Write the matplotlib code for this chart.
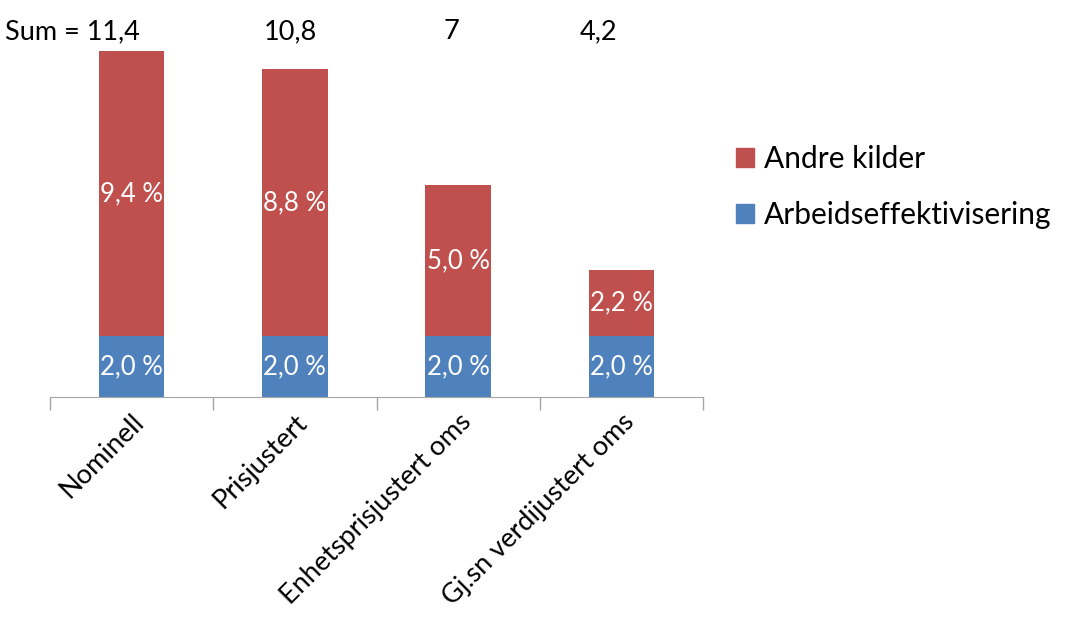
import matplotlib
matplotlib.use("Agg")
import matplotlib.pyplot as plt
from matplotlib.patches import Patch
import numpy as np

categories = ["Nominell", "Prisjustert", "Enhetsprisjustert oms", "Gj.sn verdijustert oms"]
arbeid = [2.0, 2.0, 2.0, 2.0]
andre = [9.4, 8.8, 5.0, 2.2]
sum_labels = ["Sum = 11,4", "10,8", "7", "4,2"]

BLUE = "#4F81BD"
RED = "#C0504D"
GRID = "#A6A6A6"

plt.rcParams["font.family"] = ["Lato", "DejaVu Sans"]

fig = plt.figure(figsize=(10.67, 6.17), dpi=100)
ax = fig.add_axes([50 / 1067, (617 - 397) / 617, 653 / 1067, 364 / 617])

x = np.arange(len(categories))
w = 0.4
ax.bar(x, arbeid, width=w, color=BLUE, label="Arbeidseffektivisering")
ax.bar(x, andre, width=w, bottom=arbeid, color=RED, label="Andre kilder")

def fmt(v):
    return f"{v:.1f}".replace(".", ",") + " %"

for xi, a, b in zip(x, arbeid, andre):
    ax.text(xi, a / 2, fmt(a), ha="center", va="center", color="white", fontsize=18.5)
    ax.text(xi, a + b / 2, fmt(b), ha="center", va="center", color="white", fontsize=18.5)

# totals above the chart
sum_x = [-0.36, 0.97, 1.96, 2.86]
for sx, s in zip(sum_x, sum_labels):
    ax.text(sx, 12.05, s, ha="center", va="center", fontsize=19.5, clip_on=False)

ax.set_xlim(-0.5, 3.5)
ax.set_ylim(0, 12)
for side in ["top", "right", "left"]:
    ax.spines[side].set_visible(False)
ax.spines["bottom"].set_color(GRID)
ax.yaxis.set_visible(False)

ax.set_xticks(x)
ax.set_xticklabels(categories, rotation=45, ha="right", rotation_mode="anchor", fontsize=19.5)
ax.tick_params(axis="x", which="major", length=0, pad=9)
ax.set_xticks(np.arange(-0.5, 4, 1), minor=True)
ax.tick_params(axis="x", which="minor", length=9, color=GRID, width=1)

handles = [Patch(color=RED, label="Andre kilder"), Patch(color=BLUE, label="Arbeidseffektivisering")]
fig.legend(handles=handles, loc="upper left", bbox_to_anchor=(709 / 1067, 1 - 118 / 617),
           frameon=False, fontsize=21.5, handlelength=0.6, handleheight=0.6,
           handletextpad=0.35, labelspacing=0.95)

fig.savefig("out.png", dpi=100)
